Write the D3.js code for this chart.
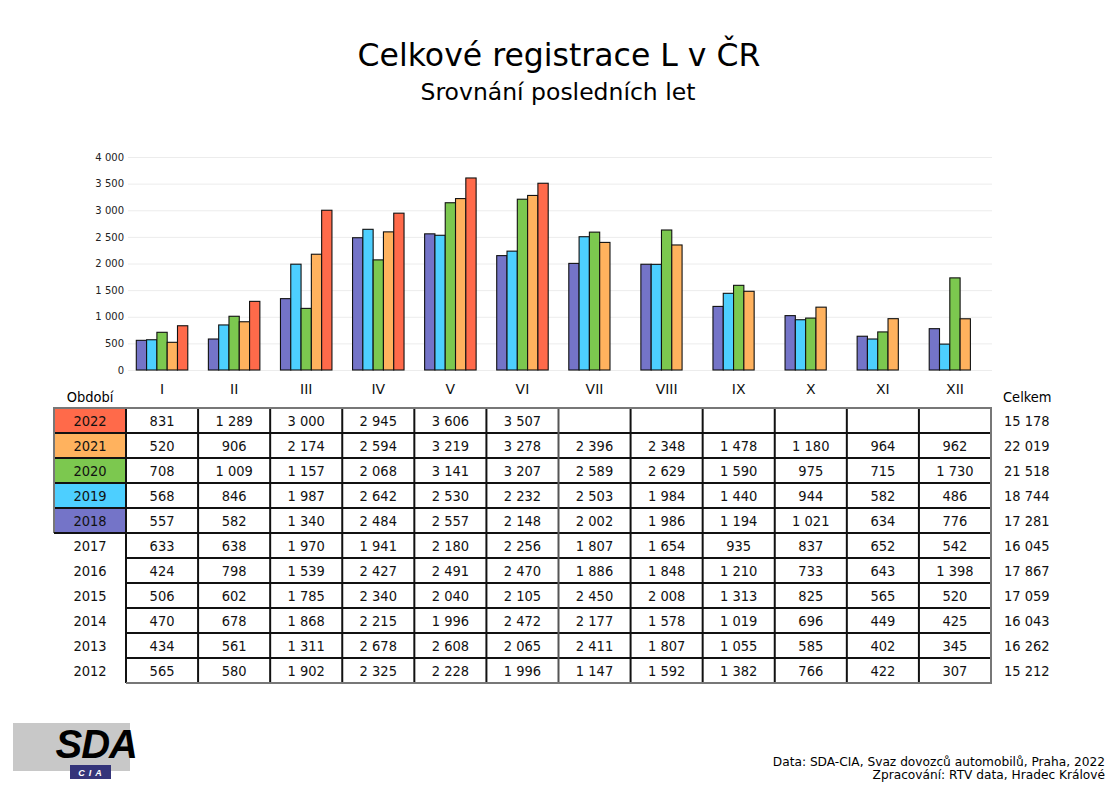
<!DOCTYPE html>
<html lang="cs">
<head>
<meta charset="UTF-8">
<title>Celkové registrace L v ČR</title>
<style>
    body { margin: 0; padding: 0; background: #fff; }
    svg { display: block; }
    .cond { font-family: "DejaVu Sans Condensed", "DejaVu Sans", sans-serif; font-stretch: condensed; }
    .plain { font-family: "DejaVu Sans", Verdana, sans-serif; }
</style>
</head>
<body>
<div id="chart"></div>
<script src="https://cdn.jsdelivr.net/npm/d3@7"></script>
<script>
// data
const months = ['I', 'II', 'III', 'IV', 'V', 'VI', 'VII', 'VIII', 'IX', 'X', 'XI', 'XII']
const tableYears = ['2022', '2021', '2020', '2019', '2018', '2017', '2016', '2015', '2014', '2013', '2012']
const chartYears = ['2018', '2019', '2020', '2021', '2022']
const yearColors = ['#7474c8', '#4dcfff', '#7cc84f', '#ffb25e', '#ff6a4a']

const v2022 = [831, 1289, 3000, 2945, 3606, 3507, null, null, null, null, null, null]
const v2021 = [520, 906, 2174, 2594, 3219, 3278, 2396, 2348, 1478, 1180, 964, 962]
const v2020 = [708, 1009, 1157, 2068, 3141, 3207, 2589, 2629, 1590, 975, 715, 1730]
const v2019 = [568, 846, 1987, 2642, 2530, 2232, 2503, 1984, 1440, 944, 582, 486]
const v2018 = [557, 582, 1340, 2484, 2557, 2148, 2002, 1986, 1194, 1021, 634, 776]
const v2017 = [633, 638, 1970, 1941, 2180, 2256, 1807, 1654, 935, 837, 652, 542]
const v2016 = [424, 798, 1539, 2427, 2491, 2470, 1886, 1848, 1210, 733, 643, 1398]
const v2015 = [506, 602, 1785, 2340, 2040, 2105, 2450, 2008, 1313, 825, 565, 520]
const v2014 = [470, 678, 1868, 2215, 1996, 2472, 2177, 1578, 1019, 696, 449, 425]
const v2013 = [434, 561, 1311, 2678, 2608, 2065, 2411, 1807, 1055, 585, 402, 345]
const v2012 = [565, 580, 1902, 2325, 2228, 1996, 1147, 1592, 1382, 766, 422, 307]
const totals = [15178, 22019, 21518, 18744, 17281, 16045, 17867, 17059, 16043, 16262, 15212]
const yTicks = [0, 500, 1000, 1500, 2000, 2500, 3000, 3500, 4000]

const rows = [v2022, v2021, v2020, v2019, v2018, v2017, v2016, v2015, v2014, v2013, v2012]
const byYear = {}
tableYears.forEach((y, i) => byYear[y] = rows[i])

const w = 1118, h = 790
const fmt = n => d3.format(',')(n).replace(/,/g, ' ')

const svg = d3.select('#chart').append('svg').attr('width', w).attr('height', h)

// titles
svg.append('text').attr('class', 'plain').attr('x', 559).attr('y', 66)
    .attr('text-anchor', 'middle').attr('font-size', 31.5).text('Celkové registrace L v ČR')
svg.append('text').attr('class', 'plain').attr('x', 558).attr('y', 100)
    .attr('text-anchor', 'middle').attr('font-size', 23.5).text('Srovnání posledních let')

// scales
const x = d3.scaleBand().domain(months).range([126, 991])
const xSub = d3.scaleBand().domain(chartYears).range([0, x.bandwidth()]).paddingOuter(1)
const y = d3.scaleLinear().domain([0, 4000]).range([370, 157])
const color = d3.scaleOrdinal().domain(chartYears).range(yearColors)

// grid + y axis
const yAxis = d3.axisLeft(y).tickValues(yTicks).tickSize(-(992 - 128)).tickFormat(fmt)
const gy = svg.append('g').attr('transform', 'translate(128,0)').call(yAxis)
gy.select('.domain').remove()
gy.selectAll('line').attr('stroke', '#ececec')
gy.selectAll('text').attr('class', 'plain').attr('font-size', 10).attr('fill', '#222').attr('x', -4)

// bars
const barData = []
chartYears.forEach(yr => months.forEach((m, i) => {
    const v = byYear[yr][i]
    if (v != null) barData.push({ yr, m, v })
}))
svg.append('g').selectAll('rect').data(barData).enter().append('rect')
    .attr('x', d => x(d.m) + xSub(d.yr))
    .attr('y', d => y(d.v))
    .attr('width', xSub.bandwidth())
    .attr('height', d => y(0) - y(d.v))
    .attr('fill', d => color(d.yr))
    .attr('stroke', '#111').attr('stroke-width', 1.1)

// month labels
const xAxis = d3.axisBottom(x).tickSize(0)
const gx = svg.append('g').attr('transform', 'translate(0,394)').call(xAxis)
gx.select('.domain').remove()
gx.selectAll('text').attr('class', 'plain').attr('font-size', 14).attr('fill', '#111').attr('y', 0).attr('dy', 0)

svg.append('text').attr('class', 'cond').attr('x', 90).attr('y', 402)
    .attr('text-anchor', 'middle').attr('font-size', 14.5).text('Období')
svg.append('text').attr('class', 'cond').attr('x', 1003).attr('y', 402)
    .attr('font-size', 14.5).text('Celkem')

// table
const r = d3.scaleBand().domain(tableYears).range([408, 683])
const table = svg.append('g')

// coloured year cells
table.selectAll('rect.yc').data(chartYears).enter().append('rect')
    .attr('x', 54).attr('y', d => r(d)).attr('width', 126 - 54).attr('height', r.bandwidth())
    .attr('fill', d => color(d))

// grid lines
tableYears.forEach((yr, i) => {
    if (i === 0) return
    const x0 = chartYears.includes(yr) || chartYears.includes(tableYears[i - 1]) ? 54 : 126
    table.append('line').attr('x1', x0).attr('x2', 991).attr('y1', r(yr)).attr('y2', r(yr))
        .attr('stroke', '#111').attr('stroke-width', 2)
})
months.forEach((m, i) => {
    table.append('line').attr('x1', x(m)).attr('x2', x(m)).attr('y1', 408).attr('y2', 683)
        .attr('stroke', i === 6 ? '#555' : '#111').attr('stroke-width', 2)
})
table.append('line').attr('x1', 126).attr('x2', 126).attr('y1', 408).attr('y2', 683)
    .attr('stroke', '#111').attr('stroke-width', 2)
// outer border
table.append('path')
    .attr('d', `M54,533 V408 H991 V683 H126`)
    .attr('fill', 'none').attr('stroke', '#777').attr('stroke-width', 2)
table.append('line').attr('x1', 54).attr('x2', 126).attr('y1', 533).attr('y2', 533)
    .attr('stroke', '#111').attr('stroke-width', 2)

// text
const rowG = table.selectAll('g.row').data(tableYears).enter().append('g')
    .attr('transform', d => `translate(0,${r(d) + r.bandwidth() / 2 + 5})`)
rowG.append('text').attr('class', 'cond').attr('x', 90).attr('text-anchor', 'middle')
    .attr('font-size', 14.5).attr('fill', '#111').text(d => d)
rowG.selectAll('text.v').data(d => byYear[d].map((v, i) => ({ v, m: months[i] })).filter(e => e.v != null))
    .enter().append('text').attr('class', 'cond')
    .attr('x', d => x(d.m) + x.bandwidth() / 2).attr('text-anchor', 'middle')
    .attr('font-size', 14.5).attr('fill', '#111').text(d => fmt(d.v))
rowG.append('text').attr('class', 'cond').attr('x', 1004)
    .attr('font-size', 14.5).attr('fill', '#111').text((d, i) => fmt(totals[i]))

// footer
svg.append('text').attr('class', 'plain').attr('x', 1105).attr('y', 766)
    .attr('text-anchor', 'end').attr('font-size', 12.2).text('Data: SDA-CIA, Svaz dovozců automobilů, Praha, 2022')
svg.append('text').attr('class', 'plain').attr('x', 1105).attr('y', 779)
    .attr('text-anchor', 'end').attr('font-size', 12.2).text('Zpracování: RTV data, Hradec Králové')

// logo
const logo = svg.append('g')
logo.append('rect').attr('x', 13).attr('y', 723).attr('width', 117).attr('height', 48).attr('fill', '#c8c8c8')
logo.append('text').attr('x', 137).attr('y', 758).attr('text-anchor', 'end')
    .attr('font-family', 'Liberation Sans, Arial, sans-serif').attr('font-weight', 'bold')
    .attr('font-style', 'italic').attr('font-size', 40).attr('letter-spacing', -1).text('SDA')
logo.append('rect').attr('x', 70).attr('y', 765).attr('width', 41).attr('height', 14).attr('fill', '#35357a')
logo.append('text').attr('x', 92).attr('y', 776).attr('text-anchor', 'middle')
    .attr('font-family', 'Liberation Sans, Arial, sans-serif').attr('font-weight', 'bold')
    .attr('font-style', 'italic').attr('font-size', 9).attr('letter-spacing', 4).attr('fill', '#fff').text('CIA')
</script>
</body>
</html>
